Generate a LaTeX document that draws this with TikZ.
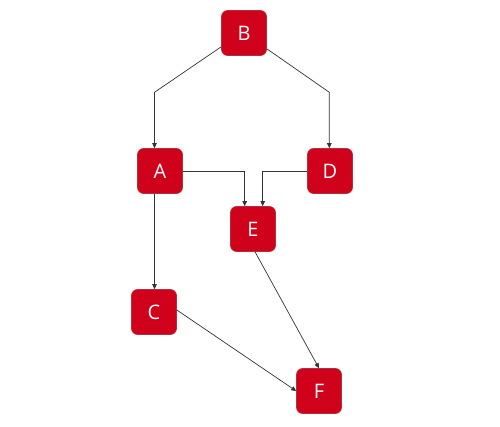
\documentclass[tikz,border=0pt]{standalone}
\usepackage{fontspec}
\setmainfont{Open Sans}
\usetikzlibrary{arrows.meta}
\definecolor{nodered}{HTML}{D0021B}
\definecolor{nodeborder}{HTML}{B03040}
\definecolor{edgegray}{HTML}{333333}
\begin{document}
\begin{tikzpicture}[x=1pt,y=-1pt,
  box/.style={draw=nodeborder,line width=0.6pt,fill=nodered,rounded corners=6pt,
    minimum width=45pt,minimum height=45pt,inner sep=0pt,text=white,
    font=\fontsize{20}{24}\selectfont},
  edge/.style={draw=edgegray,line width=0.7pt,-{Triangle[length=5pt,width=4.5pt]}}]
\useasboundingbox (0,0) rectangle (500,427);
\node[box] (B) at (244,33) {B};
\node[box] (A) at (160,171) {A};
\node[box] (D) at (330,171) {D};
\node[box] (E) at (253,229) {E};
\node[box] (C) at (154,312) {C};
\node[box] (F) at (319,391) {F};
\coordinate (ba) at (154.5,92.3);
\coordinate (bd) at (329.3,92.3);
\draw[edge] (B.south west) ++(0,-9) -- (ba) -- (ba |- A.north);
\draw[edge] (B.south east) ++(0,-7) -- (bd) -- (bd |- D.north);
\coordinate (ae) at (244.7,171.7);
\coordinate (de) at (262.7,171.7);
\draw[edge] (A.east |- ae) -- (ae) -- (ae |- E.north);
\draw[edge] (D.west |- de) -- (de) -- (de |- E.north);
\draw[edge] (ba |- A.south) -- (ba |- C.north);
\draw[edge] (E.south) ++(2,0) -- (F.north);
\draw[edge] (C.east) ++(0,-2) -- (F.west);
\end{tikzpicture}
\end{document}
